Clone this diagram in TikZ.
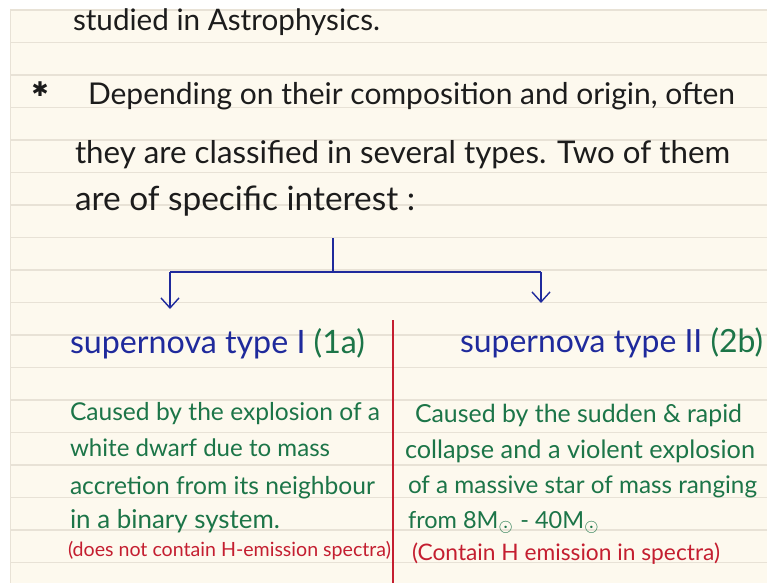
\documentclass[tikz,border=0pt]{standalone}
\usepackage{fontspec}
\setmainfont{Lato}
\newfontfamily\symbolfont{DejaVu Sans}
\usepackage{graphicx}
\usetikzlibrary{arrows.meta}
\definecolor{paper}{HTML}{FDF9EE}
\definecolor{ruleline}{HTML}{E8E2D6}
\definecolor{ink}{HTML}{1C1C1C}
\definecolor{bink}{HTML}{1F2A9C}
\definecolor{gink}{HTML}{1C7548}
\definecolor{rink}{HTML}{C41E30}
\newcommand{\fitw}[2]{\resizebox{#1pt}{!}{#2}}
\begin{document}
\begin{tikzpicture}[x=1pt,y=-1pt,
  txt/.style={anchor=base west, inner sep=0pt, outer sep=0pt},
  treeline/.style={draw=bink, line width=1.4pt},
  treearrow/.style={treeline, -{Straight Barb[length=10pt,width=18pt,line width=1.4pt]}},
  divider/.style={draw=rink, line width=1.3pt}]
\useasboundingbox (0,0) rectangle (767,583);
\fill[white] (0,0) rectangle (767,583);
\fill[paper] (10,9) rectangle (767,583);
\foreach \k in {0,...,17} \draw[ruleline, line width=1.2pt] (10,{10+32.5*\k}) -- (767,{10+32.5*\k});
\draw[ruleline] (10,9) -- (10,583);

% black text
\node[txt, text=ink] (l1) at (73,31) {\fitw{307}{studied in Astrophysics.}};
\node[inner sep=0pt, text=ink] (star) at (40,89) {\resizebox{17pt}{!}{\symbolfont ✱}};
\node[txt, text=ink] (l2) at (88,105) {\fitw{647}{Depending on their composition and origin, often}};
\node[txt, text=ink] (l3) at (75,163) {\fitw{655}{they are classified in several types. Two of them}};
\node[txt, text=ink] (l4) at (75,210) {\fitw{340}{are of specific interest :}};

% tree
\coordinate (stem) at (333,238);
\coordinate (fork) at (333,272);
\coordinate (lfork) at (170,272);
\coordinate (rfork) at (541,272);
\coordinate (ltip) at (170,309);
\coordinate (rtip) at (541,303);
\draw[treeline] (stem) -- (fork);
\draw[treeline] (lfork) -- (rfork);
\draw[treearrow] (lfork) -- (ltip);
\draw[treearrow] (rfork) -- (rtip);

% headings
\node[txt] (h1) at (70,353) {\fitw{295}{\textcolor{bink}{supernova type I} \textcolor{gink}{(1a)}}};
\node[txt] (h2) at (460,352) {\fitw{303}{\textcolor{bink}{supernova type II} \textcolor{gink}{(2b)}}};

% divider
\coordinate (dtop) at (393,320);
\coordinate (dbot) at (393,583);
\draw[divider] (dtop) -- (dbot);

% left column
\node[txt, text=gink] (a1) at (70,420) {\fitw{310}{Caused by the explosion of a}};
\node[txt, text=gink] (a2) at (70,456) {\fitw{260}{white dwarf due to mass}};
\node[txt, text=gink] (a3) at (70,494) {\fitw{305}{accretion from its neighbour}};
\node[txt, text=gink] (a4) at (70,528) {\fitw{210}{in a binary system.}};
\node[txt, text=rink] (a5) at (68,556) {\fitw{323}{(does not contain H-emission spectra)}};

% right column
\node[txt, text=gink] (b1) at (415,422) {\fitw{327}{Caused by the sudden \& rapid}};
\node[txt, text=gink] (b2) at (405,458) {\fitw{350}{collapse and a violent explosion}};
\node[txt, text=gink] (b3) at (408,493) {\fitw{349}{of a massive star of mass ranging}};
\node[txt, text=gink] (b4) at (408,528) {\fitw{192}{from 8M$_\odot$ - 40M$_\odot$}};
\node[txt, text=rink] (b5) at (412,560) {\fitw{308}{(Contain H emission in spectra)}};
\end{tikzpicture}
\end{document}
